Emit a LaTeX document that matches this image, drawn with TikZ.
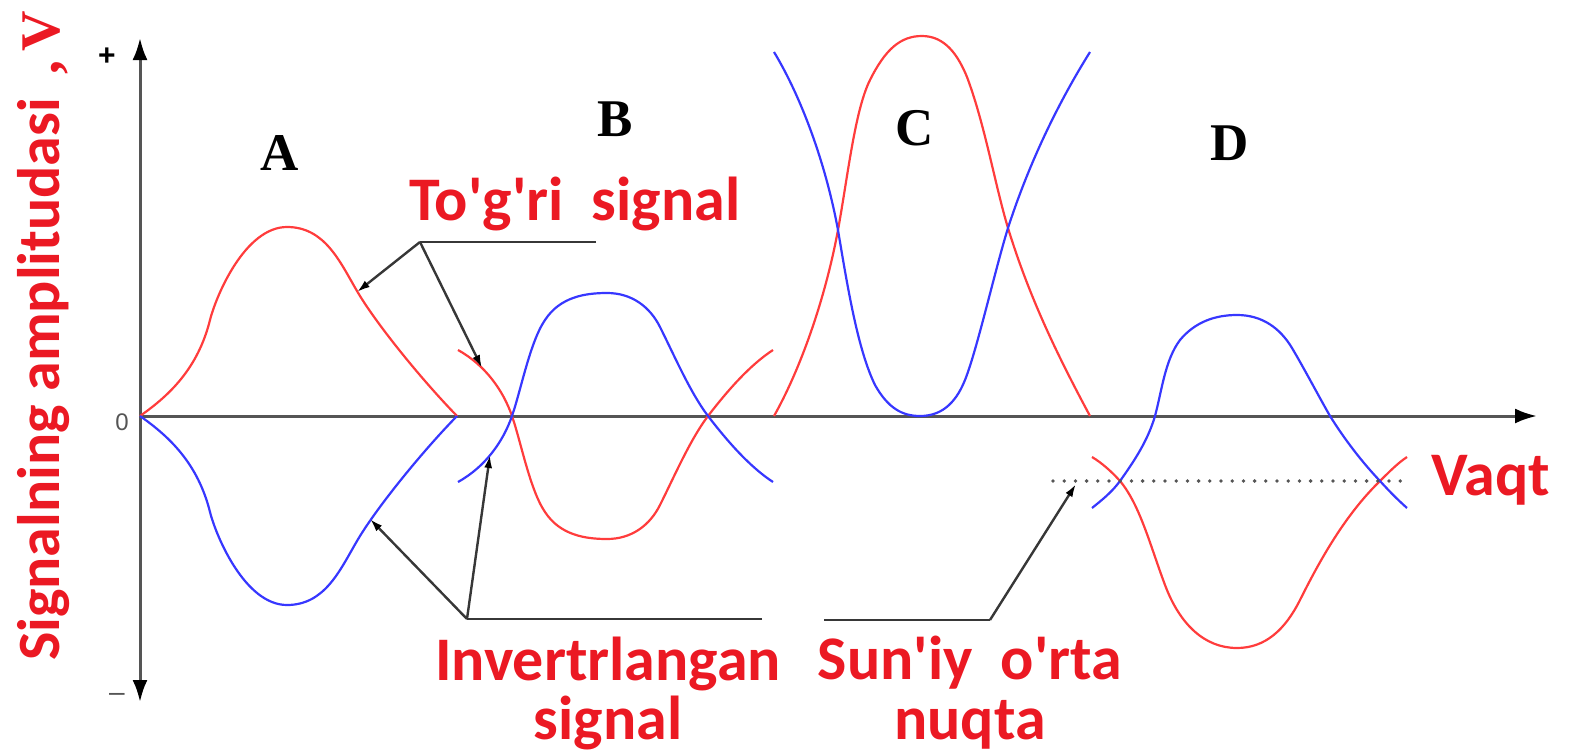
\documentclass[tikz,border=0pt]{standalone}
\usepackage{fontspec}
\usepackage{tikz}
\usetikzlibrary{
    arrows.meta,
    positioning,
    calc
}
\setmainfont{Carlito}
\newfontfamily\timesfont{Liberation Serif}
\newfontfamily\arialfont{Liberation Sans}
\definecolor{SignalRed}{RGB}{255,60,60}
\definecolor{SignalBlue}{RGB}{55,55,255}
\definecolor{LabelRed}{RGB}{235,25,35}
\definecolor{AxisGray}{RGB}{85,85,85}
\definecolor{LeaderGray}{RGB}{55,55,55}
\newcommand{\lbl}{\fontsize{31}{35}\selectfont\bfseries\color{LabelRed}}
\newcommand{\seg}{\fontsize{26.5}{30}\selectfont\timesfont\bfseries}
\newcommand{\q}{\textquotesingle}

\begin{document}
\begin{tikzpicture}[
    x=0.5pt, y=-0.5pt,
    >=Latex,
    axis/.style={line width=1.5pt, AxisGray},
    redsig/.style={line width=1.1pt, SignalRed},
    bluesig/.style={line width=1.1pt, SignalBlue},
    leader/.style={line width=1.2pt, LeaderGray},
    pointer/.style={leader, -{Latex[length=6.5pt,width=4pt,color=black]}},
    ticklbl/.style={inner sep=0pt},
    flip/.style={shift={(0,832)}, yscale=-1}
]

\useasboundingbox (0,0) rectangle (1570,755);

\coordinate (O) at (140,416);
\coordinate (Ytop) at (140,38);
\coordinate (Ybot) at (140,702);
\coordinate (Xend) at (1537,416);

% axes
\draw[axis, {Latex[length=11pt,width=7.5pt,color=black]}-{Latex[length=11pt,width=7.5pt,color=black]}]
    (Ybot) -- (Ytop);
\draw[axis, -{Latex[length=11pt,width=7.5pt,color=black]}]
    (O) -- (Xend);

\node[ticklbl] (plus) at (107,57) {\arialfont\bfseries\fontsize{15}{15}\selectfont +};
\node[ticklbl] (zero) at (122,422) {\arialfont\fontsize{12}{12}\selectfont\color{AxisGray}0};
\node[ticklbl] (minus) at (117,697) {\arialfont\fontsize{14}{14}\selectfont\color{AxisGray}\textendash};

% A
\newcommand{\humpA}{(140,416) .. controls (170,395) and (198,368) .. (210,320)
    .. controls (216,296) and (245,227) .. (287,227)
    .. controls (325,227) and (340,262) .. (357,291)
    .. controls (375,322) and (420,378) .. (457,416)}
\draw[redsig] \humpA;
\draw[bluesig, flip] \humpA;

% B
\newcommand{\waveB}{(458,350) .. controls (485,365) and (503,390) .. (512,416)
    .. controls (521,442) and (530,490) .. (545,512)
    .. controls (560,535) and (585,539) .. (607,539)
    .. controls (632,539) and (650,525) .. (660,505)
    .. controls (675,475) and (690,440) .. (708,416)
    .. controls (728,390) and (750,365) .. (773,350)}
\draw[redsig] \waveB;
\draw[bluesig, flip] \waveB;

% C
\draw[redsig] (774,416) .. controls (800,370) and (825,300) .. (838,230)
    .. controls (848,175) and (855,110) .. (870,80)
    .. controls (885,50) and (900,36) .. (922,36)
    .. controls (945,36) and (958,55) .. (967,77)
    .. controls (985,125) and (995,185) .. (1008,228)
    .. controls (1030,300) and (1060,360) .. (1090,416);
\draw[bluesig] (774,52) .. controls (800,95) and (825,160) .. (838,230)
    .. controls (848,290) and (858,350) .. (875,385)
    .. controls (888,408) and (902,416) .. (920,416)
    .. controls (940,416) and (955,405) .. (965,380)
    .. controls (977,350) and (995,270) .. (1008,228)
    .. controls (1030,160) and (1060,100) .. (1090,52);

% D
\draw[redsig] (1092,457) .. controls (1102,463) and (1112,472) .. (1120,481)
    .. controls (1140,505) and (1150,545) .. (1165,585)
    .. controls (1180,625) and (1205,648) .. (1237,648)
    .. controls (1265,648) and (1285,630) .. (1300,600)
    .. controls (1320,560) and (1345,515) .. (1380,481)
    .. controls (1390,471) and (1398,463) .. (1407,457);
\draw[bluesig] (1092,508) .. controls (1102,500) and (1112,492) .. (1120,481)
    .. controls (1135,460) and (1148,440) .. (1155,416)
    .. controls (1162,390) and (1165,360) .. (1180,340)
    .. controls (1195,322) and (1215,315) .. (1237,315)
    .. controls (1262,315) and (1280,328) .. (1292,348)
    .. controls (1305,370) and (1318,395) .. (1330,416)
    .. controls (1345,440) and (1362,462) .. (1380,481)
    .. controls (1390,492) and (1398,500) .. (1407,508);

\coordinate (midL) at (1053,481);
\coordinate (midR) at (1405,481);
\draw[line width=1.9pt, AxisGray, line cap=round, dash pattern=on 0pt off 5.6pt]
    (midL) -- (midR);

% leaders
\coordinate (TJ) at (420,242);
\coordinate (TE) at (596,242);
\coordinate (TA) at (357,292);
\coordinate (TB) at (482,368);
\draw[leader] (TE) -- (TJ);
\draw[pointer] (TJ) -- (TA);
\draw[pointer] (TJ) -- (TB);

\coordinate (IJ) at (467,619);
\coordinate (IE) at (762,619);
\coordinate (IA) at (370,519);
\coordinate (IB) at (490,455);
\draw[leader] (IE) -- (IJ);
\draw[pointer] (IJ) -- (IA);
\draw[pointer] (IJ) -- (IB);

\coordinate (SE) at (824,620);
\coordinate (SJ) at (990,620);
\coordinate (SA) at (1076,484);
\draw[leader] (SE) -- (SJ);
\draw[pointer] (SJ) -- (SA);

% labels
\node[anchor=base] (togri) at (575,220) {\lbl To\q g\q ri\ \ signal};
\node[anchor=base, inner ysep=0pt] (inv1) at (608,680) {\lbl Invertrlangan};
\node[anchor=base, inner ysep=0pt] (inv2) at (608,739) {\lbl signal};
\node[anchor=base, inner ysep=0pt] (sun1) at (970,679) {\lbl Sun\q iy\ \ o\q rta};
\node[anchor=base, inner ysep=0pt] (sun2) at (970,739) {\lbl nuqta};
\node[anchor=base] (vaqt) at (1491,495) {\lbl Vaqt};

\node[anchor=base west, rotate=90] (ylab) at (59,668)
    {\lbl\fontsize{30}{34}\selectfont Signalning amplitudasi};
\node[anchor=base, rotate=90] (vcomma) at (59,68)
    {\seg\fontsize{28}{30}\selectfont\color{LabelRed},};
\node[anchor=base, rotate=90] (vunit) at (59,31)
    {\seg\fontsize{28}{30}\selectfont\color{LabelRed}V};

\node[anchor=base] (lblA) at (280,170) {\seg A};
\node[anchor=base] (lblB) at (615,136) {\seg B};
\node[anchor=base] (lblC) at (915,145) {\seg C};
\node[anchor=base] (lblD) at (1230,160) {\seg D};

\end{tikzpicture}
\end{document}
